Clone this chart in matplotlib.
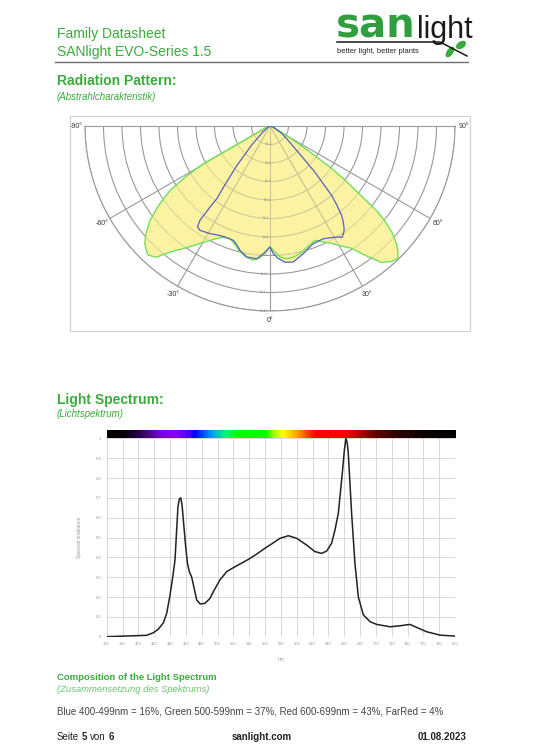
import numpy as np
import matplotlib.pyplot as plt
from matplotlib.colors import LinearSegmentedColormap
from matplotlib.patches import Rectangle, Ellipse
from matplotlib.lines import Line2D

plt.rcParams['font.family'] = ['Liberation Sans', 'DejaVu Sans']

W, H = 538, 750
GREEN = '#3aab3c'
LIGHT_GREEN = '#6cc46c'
YELLOW = '#fbf3a2'

# radiation pattern: angle from nadir (deg) and relative intensity
green_deg = [-90, -70, -64, -61.5, -60.5, -59, -57.2, -54.5, -51.8, -49, -46.7, -43.5,
             -41, -38.4, -34, -29.9, -26, -22.9, -19.6, -16.5, -13.4, -10, -7.1, -4.3,
             -2, 0, 1.5, 4.4, 7.2, 10, 13.2, 17, 21.5, 24.7, 27.5, 29.7, 33.8, 36.3,
             39.3, 42, 44, 45.4, 47.2, 48.9, 50.3, 51.4, 52.9, 54.2, 55.5, 57.5, 59.5,
             61.5, 66, 75, 90]
green_r = [0.0, 0.02, 0.06, 0.143, 0.414, 0.53, 0.643, 0.74, 0.825, 0.89, 0.93, 0.96,
           0.94, 0.87, 0.79, 0.726, 0.68, 0.653, 0.645, 0.668, 0.70, 0.722, 0.73, 0.715,
           0.685, 0.654, 0.672, 0.71, 0.723, 0.72, 0.709, 0.685, 0.664, 0.69, 0.715,
           0.742, 0.796, 0.867, 0.953, 0.985, 0.995, 0.972, 0.93, 0.875, 0.81, 0.749,
           0.594, 0.50, 0.404, 0.224, 0.12, 0.072, 0.03, 0.015, 0.0]

blue_deg = [-90, -60, -50, -44, -40, -37.5, -36.2, -36.5, -36.6, -35.7, -33.9, -31.5,
            -29.1, -26, -22.9, -17.8, -15.5, -13.6, -10.1, -5.7, -3.0, -0.8, 0, 1.5,
            3.5, 6.3, 9.7, 12, 14.6, 17.5, 20.2, 25.3, 28, 31, 32.9, 34.8, 35.9, 37.5,
            38.7, 40.2, 41.6, 44.2, 47.1, 52, 57.8, 70, 90]
blue_r = [0.0, 0.01, 0.05, 0.14, 0.277, 0.40, 0.485, 0.545, 0.635, 0.672, 0.679, 0.672,
          0.666, 0.655, 0.648, 0.649, 0.668, 0.691, 0.719, 0.721, 0.691, 0.663, 0.654,
          0.69, 0.717, 0.741, 0.746, 0.73, 0.713, 0.693, 0.678, 0.674, 0.685, 0.70,
          0.717, 0.70, 0.683, 0.65, 0.619, 0.56, 0.502, 0.349, 0.209, 0.12, 0.074,
          0.02, 0.0]

ring_r = [0.1, 0.2, 0.3, 0.4, 0.5, 0.6, 0.7, 0.8, 0.9, 1.0]
ring_labels = ['1e+1', '2e+1', '3e+1', '4e+1', '5e+1', '6e+1', '7e+1', '8e+1', '9e+1', '1e+2']
spoke_deg = [-60, -30, 0, 30, 60]
angle_ticks = [-90, -60, -30, 0, 30, 60, 90]
angle_labels = ['-90°', '-60°', '-30°', '0°', '30°', '60°', '90°']

# light spectrum
wl = [360, 410.5, 419, 425, 431.6, 435.8, 440, 443.4, 446.3, 448.4, 450, 451.8, 453.5,
      455.2, 456.8, 459.4, 462, 464.4, 467.4, 473.7, 478, 484, 490.5, 494.7, 503, 511.6,
      520, 530, 540, 550, 560, 570, 579, 589.5, 600, 612.6, 623, 631.6, 637.9, 644,
      648.4, 652.6, 658, 660.2, 662.3, 663.9, 665.2, 669.4, 673.6, 677.9, 684.2, 692.6,
      701, 717.9, 730.5, 743, 751.5, 764.2, 781, 800]
irr = [0.0, 0.007, 0.02, 0.037, 0.07, 0.118, 0.21, 0.30, 0.387, 0.54, 0.655, 0.694, 0.70,
       0.664, 0.59, 0.47, 0.37, 0.328, 0.30, 0.185, 0.165, 0.168, 0.193, 0.227, 0.286,
       0.328, 0.348, 0.37, 0.392, 0.418, 0.446, 0.472, 0.496, 0.509, 0.496, 0.462, 0.429,
       0.42, 0.432, 0.47, 0.538, 0.622, 0.84, 0.94, 1.0, 0.975, 0.924, 0.622, 0.37,
       0.20, 0.11, 0.076, 0.062, 0.05, 0.055, 0.062, 0.047, 0.025, 0.008, 0.003]
x_ticks = list(range(360, 801, 20))
y_ticks = [0, 0.1, 0.2, 0.3, 0.4, 0.5, 0.6, 0.7, 0.8, 0.9, 1.0]
y_tick_labels = ['0', '0.1', '0.2', '0.3', '0.4', '0.5', '0.6', '0.7', '0.8', '0.9', '1']
composition = 'Blue 400-499nm = 16%, Green 500-599nm = 37%, Red 600-699nm = 43%, FarRed = 4%'

# spectrum colour strip
strip_nm = [360, 380, 400, 425, 445, 462, 470, 490, 510, 525, 560, 572, 582, 600, 618,
            625, 660, 680, 700, 725, 760, 800]
strip_col = ['#000000', '#050008', '#2a0050', '#7000e0', '#8a00ff', '#5000ff', '#0000ff',
             '#0090ff', '#00ff70', '#00ff00', '#00ff00', '#b0ff00', '#ffff00', '#ffa000',
             '#ff2000', '#ff0000', '#ff0000', '#b00000', '#600000', '#300000', '#100000',
             '#000000']


def fx(x):
    return x / W


def fy(y):
    return 1 - y / H


fig = plt.figure(figsize=(W / 100, H / 100), dpi=100)

# header
fig.text(fx(57), fy(34), 'Family Datasheet', fontsize=10, color=GREEN, va='center')
fig.text(fx(57), fy(52), 'SANlight EVO-Series 1.5', fontsize=10, color=GREEN, va='center')
fig.add_artist(Line2D([fx(55), fx(468)], [fy(62), fy(62)], color='#707070', lw=1.0))

# logo
fig.text(fx(336), fy(38), 'san', fontsize=29, fontweight='bold', color='#2e9e3e',
         va='baseline', family='DejaVu Sans')
fig.text(fx(417), fy(38), 'light', fontsize=22, color='#1a1a1a', va='baseline')
fig.add_artist(Line2D([fx(337), fx(440), fx(467)], [fy(42), fy(42), fy(56)],
                      color='#1a1a1a', lw=1.1))
fig.text(fx(337), fy(51.5), 'better light, better plants', fontsize=5.4, color='#222222',
         va='center')
fig.add_artist(Ellipse((fx(450), fy(52)), 9 / W, 6 / H, angle=40, color='#3aab3c',
                       transform=fig.transFigure))
fig.add_artist(Ellipse((fx(461), fy(45)), 9 / W, 6 / H, angle=20, color='#3aab3c',
                       transform=fig.transFigure))

# radiation pattern
fig.text(fx(57), fy(81), 'Radiation Pattern:', fontsize=10, fontweight='bold',
         color=GREEN, va='center')
fig.text(fx(57), fy(97), '(Abstrahlcharakteristik)', fontsize=7, style='italic',
         color=GREEN, va='center')
fig.add_artist(Rectangle((fx(70), fy(331)), 400 / W, 215 / H, fill=False,
                         ec='#d0d0d0', lw=0.8, transform=fig.transFigure))

# square box, the half disc is centred in it (centre 270,126, radius 185)
ax = fig.add_axes([fx(85), fy(403.5), 370 / W, 370 / H], projection='polar')
ax.set_theta_zero_location('S')
ax.set_theta_direction(1)
ax.set_thetamin(-90)
ax.set_thetamax(90)
ax.set_rlim(0, 1)
ax.set_rgrids(ring_r, labels=[''] * len(ring_r))
ax.set_thetagrids(spoke_deg, labels=[''] * len(spoke_deg))
ax.grid(color='#9a9a9a', lw=0.8)
ax.set_axisbelow(True)
for sp in ax.spines.values():
    sp.set_color('#9a9a9a')
    sp.set_linewidth(0.8)

gt = np.deg2rad(green_deg)
bt = np.deg2rad(blue_deg)
green_patch = ax.fill(gt, green_r, color=YELLOW, lw=0, zorder=2)[0]
blue_patch = ax.fill(bt, blue_r, color=YELLOW, lw=0, zorder=2)[0]

# faint grid seen through the yellow area
ring_theta = np.deg2rad(np.linspace(-90, 90, 181))
for patch in (green_patch, blue_patch):
    for r in ring_r:
        ln, = ax.plot(ring_theta, np.full(181, r), color='#d2cb98', lw=0.6, zorder=2.5)
        ln.set_clip_path(patch)
    for a in spoke_deg:
        ln, = ax.plot(np.deg2rad([a, a]), [0, 1], color='#c8c296', lw=0.6, zorder=2.5)
        ln.set_clip_path(patch)

ax.plot(gt, green_r, color='#72e05a', lw=1.0, zorder=3)
ax.plot(bt, blue_r, color='#5a5ec0', lw=0.9, zorder=4)
for a, lab in zip(angle_ticks, angle_labels):
    ax.text(np.deg2rad(a), 1.05, lab, fontsize=5, color='#333333', ha='center',
            va='center')
for r, lab in zip(ring_r, ring_labels):
    ax.text(np.deg2rad(-2.2), r, lab, fontsize=2.2, color='#888888', ha='center',
            va='center', zorder=5)

# light spectrum
fig.text(fx(57), fy(400), 'Light Spectrum:', fontsize=10, fontweight='bold',
         color=GREEN, va='center')
fig.text(fx(57), fy(414), '(Lichtspektrum)', fontsize=7, style='italic',
         color=GREEN, va='center')

ax2 = fig.add_axes([fx(106.7), fy(636.7), 348.3 / W, 206.7 / H])
cmap = LinearSegmentedColormap.from_list(
    'strip', [((n - 360) / 440, c) for n, c in zip(strip_nm, strip_col)])
ax2.imshow(np.linspace(0, 1, 600)[None, :], extent=(360, 800, 1.0, 1.042),
           aspect='auto', cmap=cmap, zorder=2)
ax2.plot(wl, irr, color='#222222', lw=1.1, zorder=3)
ax2.set_xlim(360, 800)
ax2.set_ylim(0, 1.042)
ax2.set_xticks(x_ticks)
ax2.set_yticks(y_ticks)
ax2.set_yticklabels(y_tick_labels)
ax2.tick_params(length=0, labelsize=3, colors='#999999', pad=4)
ax2.grid(color='#d2d2d2', lw=0.6)
ax2.set_axisbelow(True)
for sp in ax2.spines.values():
    sp.set_visible(False)
ax2.set_ylabel('Spectral irradiance', fontsize=3.5, color='#999999')
ax2.yaxis.set_label_coords(-0.072, 0.48)
ax2.set_xlabel('nm', fontsize=3.5, color='#999999')
ax2.xaxis.set_label_coords(0.5, -0.098)

# composition and footer
fig.text(fx(57), fy(677), 'Composition of the Light Spectrum', fontsize=6.8,
         fontweight='bold', color=GREEN, va='center')
fig.text(fx(57), fy(690), '(Zusammensetzung des Spektrums)', fontsize=6.8,
         style='italic', color=LIGHT_GREEN, va='center')
fig.text(fx(57), fy(712), composition, fontsize=7, color='#444444', va='center')
fig.text(fx(57), fy(737), 'Seite', fontsize=7, color='#222222', va='center')
fig.text(fx(82), fy(737), '5', fontsize=7, fontweight='bold', color='#222222',
         va='center')
fig.text(fx(89.5), fy(737), 'von', fontsize=7, color='#222222', va='center')
fig.text(fx(108.5), fy(737), '6', fontsize=7, fontweight='bold', color='#222222',
         va='center')
fig.text(fx(262), fy(737), 'sanlight.com', fontsize=7, fontweight='bold',
         color='#222222', va='center', ha='center')
fig.text(fx(467), fy(737), '01.08.2023', fontsize=7, fontweight='bold',
         color='#222222', va='center', ha='right')

fig.savefig('out.png', dpi=100)
